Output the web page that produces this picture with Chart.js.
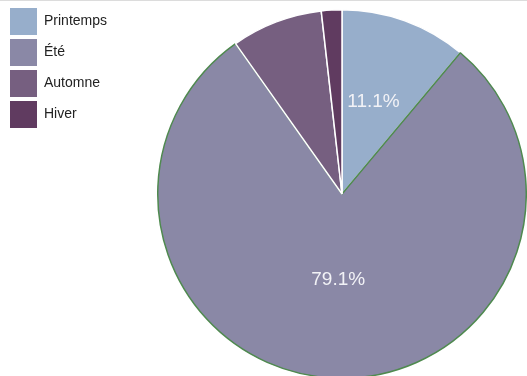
<!DOCTYPE html>
<html>
<head>
<meta charset="utf-8">
<script src="https://cdn.jsdelivr.net/npm/chart.js@4"></script>
<style>
    html, body { margin: 0; padding: 0; overflow: hidden; background: #fff; }
    body { border-top: 1px solid #dcdcdc; }
    #wrap { position: relative; width: 527px; height: 383px; }
</style>
</head>
<body>
<div id="wrap"><canvas id="saisons"></canvas></div>
<script>
// Saisons et parts (%)
const seasons = ['Printemps', 'Été', 'Automne', 'Hiver'];
const shares = [11.1, 79.1, 8.0, 1.8];
const colors = ['#97aecb', '#8a88a6', '#765f80', '#603b60'];
const borders = ['#ffffff', '#4f8a4f', '#ffffff', '#ffffff'];

// Pourcentages dessinés au milieu des grandes parts
const pctLabels = {
    id: 'pctLabels',
    afterDatasetsDraw(chart) {
        const ctx = chart.ctx;
        const meta = chart.getDatasetMeta(0);
        const total = shares.reduce((a, b) => a + b, 0);
        ctx.save();
        ctx.font = '19px "Liberation Sans", Arial, sans-serif';
        ctx.fillStyle = '#f2f2f6';
        ctx.textAlign = 'center';
        ctx.textBaseline = 'middle';
        meta.data.forEach((arc, i) => {
            const pct = shares[i] / total * 100;
            if (pct < 10) return;
            const pos = arc.tooltipPosition();
            ctx.fillText(pct.toFixed(1) + '%', pos.x, pos.y - 6);
        });
        ctx.restore();
    }
};

// Légende à gauche, largeur fixe pour placer le camembert
const legendWidth = {
    id: 'legendWidth',
    beforeInit(chart) {
        const fit = chart.legend.fit;
        chart.legend.fit = function() {
            fit.bind(chart.legend)();
            this.width = 151;
        };
    }
};

const ctx = document.getElementById('saisons').getContext('2d');
new Chart(ctx, {
    type: 'pie',
    data: {
        labels: seasons,
        datasets: [{
            data: shares,
            backgroundColor: colors,
            borderColor: borders,
            borderWidth: 1.5
        }]
    },
    options: {
        responsive: true,
        maintainAspectRatio: false,
        animation: false,
        layout: { padding: { top: 3, bottom: 0, left: 6, right: 0 } },
        plugins: {
            tooltip: { enabled: false },
            legend: {
                position: 'left',
                align: 'start',
                labels: {
                    boxWidth: 27,
                    boxHeight: 27,
                    padding: 4,
                    color: '#222',
                    font: { family: '"Liberation Sans", Arial, sans-serif', size: 14 },
                    generateLabels(chart) {
                        const items = Chart.overrides.pie.plugins.legend.labels.generateLabels(chart);
                        items.forEach(it => { it.lineWidth = 0; it.strokeStyle = 'transparent'; });
                        return items;
                    }
                }
            }
        }
    },
    plugins: [pctLabels, legendWidth]
});
</script>
</body>
</html>
